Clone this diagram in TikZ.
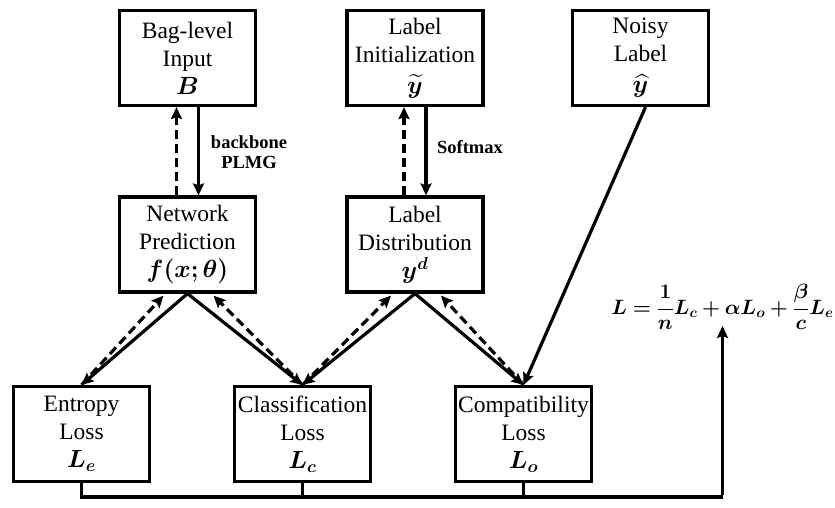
\documentclass[tikz,border=0pt]{standalone}
\usepackage{amsmath,bm}
\usepackage{fontspec}
\setmainfont{Liberation Serif}
\usetikzlibrary{arrows.meta,calc}
\tikzset{
  box/.style={draw, line width=3.2pt, minimum width=136pt, minimum height=95pt, inner sep=0pt,
    align=center, font=\fontsize{23.5}{28}\selectfont},
  lbl/.style={align=center, font=\fontsize{18.5}{20}\selectfont\bfseries, inner sep=0pt},
  conn/.style={line width=3.2pt, -{Stealth[length=12pt,width=11pt,inset=2pt]}},
  dconn/.style={conn, dash pattern=on 9pt off 5pt},
  bus/.style={line width=3.2pt}
}
\begin{document}
\begin{tikzpicture}[x=1pt,y=-1pt]
\useasboundingbox (0,0) rectangle (835,507);
% boxes
\node[box] (bag) at (187.5,58) {Bag-level\\Input\\$\bm{B}$};
\node[box] (init) at (415,58) {Label\\Initialization\\[3pt]$\widetilde{\bm{y}}$};
\node[box] (noisy) at (640.5,58) {Noisy\\Label\\[3pt]$\widehat{\bm{y}}$};
\node[box] (np) at (187.5,244.5) {Network\\Prediction\\$\bm{f(x;\theta)}$};
\node[box] (ld) at (415,244.5) {Label\\Distribution\\$\bm{y^d}$};
\node[box] (ent) at (81.5,434) {Entropy\\Loss\\$\bm{L_e}$};
\node[box] (cls) at (302.5,434) {Classification\\Loss\\$\bm{L_c}$};
\node[box] (cmp) at (523.5,434) {Compatibility\\Loss\\$\bm{L_o}$};
% formula
\node[inner sep=0pt, font=\fontsize{20}{24}\selectfont] (form) at (722.5,307)
  {$\displaystyle \bm{L=\frac{1}{n}L_c+\alpha L_o+\frac{\beta}{c}L_e}$};
% labels
\node[lbl] (bb) at (249,152) {backbone\\PLMG};
\node[lbl] (sm) at (470,147) {Softmax};
% vertical arrows
\draw[dconn] ([xshift=-11pt]np.north) -- ([xshift=-11pt]bag.south);
\draw[conn] ([xshift=11pt]bag.south) -- ([xshift=11pt]np.north);
\draw[dconn] ([xshift=-11pt]ld.north) -- ([xshift=-11pt]init.south);
\draw[conn] ([xshift=11pt]init.south) -- ([xshift=11pt]ld.north);
% diagonals
\draw[conn] (np.south) -- (ent.north);
\draw[dconn] (ent.north) -- ([xshift=-24pt,yshift=-2pt]np.south);
\draw[conn] (np.south) -- (cls.north);
\draw[dconn] (cls.north) -- ([xshift=26pt,yshift=-2pt]np.south);
\draw[conn] (ld.south) -- (cls.north);
\draw[dconn] (cls.north) -- ([xshift=-24pt,yshift=-2pt]ld.south);
\draw[conn] (ld.south) -- (cmp.north);
\draw[dconn] (cmp.north) -- ([xshift=26pt,yshift=-2pt]ld.south);
\draw[conn] ([xshift=5pt]noisy.south) -- (cmp.north);
% bus
\coordinate (busL) at (ent.south |- 0,497);
\coordinate (busR) at (form.south |- 0,497);
\draw[bus] (ent.south) -- (busL) -- (busR);
\draw[bus] (cls.south) -- (cls.south |- busL);
\draw[bus] (cmp.south) -- (cmp.south |- busL);
\draw[conn] ([yshift=1.6pt]busR) -- ([yshift=4pt]form.south);
\end{tikzpicture}
\end{document}
